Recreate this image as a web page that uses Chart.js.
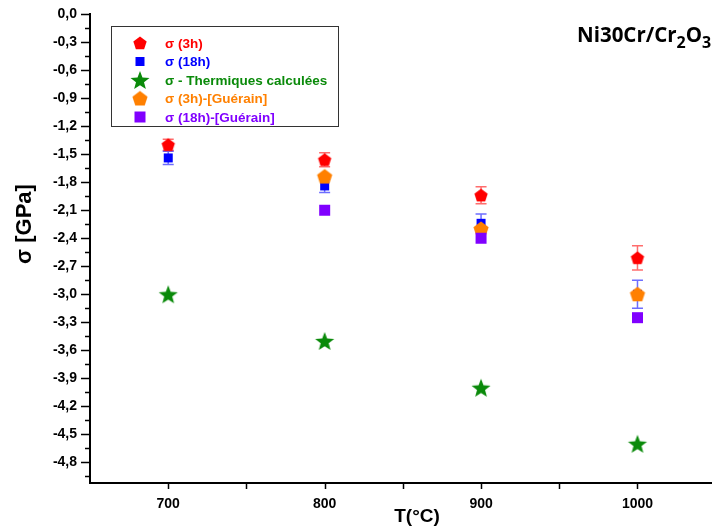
<!DOCTYPE html>
<html>
<head>
<meta charset="utf-8">
<script src="https://cdn.jsdelivr.net/npm/chart.js@4"></script>
<style>
  html, body { margin: 0; padding: 0; background: #fff; }
</style>
</head>
<body>
<canvas id="c" width="716" height="530"></canvas>
<script>
// data
const temps = [700, 800, 900, 1000];
const sigma3h = [-1.40, -1.56, -1.94, -2.61];
const err3h = [0.06, 0.075, 0.09, 0.13];
const sigma18h = [-1.54, -1.84, -2.24, -3.00];
const err18h = [0.07, 0.07, 0.10, 0.15];
const sigmaTherm = [-3.00, -3.50, -4.00, -4.60];
const sigma3hG = [null, -1.74, -2.30, -3.00];
const sigma18hG = [null, -2.10, -2.40, -3.25];

const yMajor = [0, -0.3, -0.6, -0.9, -1.2, -1.5, -1.8, -2.1, -2.4, -2.7, -3.0, -3.3, -3.6, -3.9, -4.2, -4.5, -4.8];
const xMajor = [700, 800, 900, 1000];
const xMinor = [750, 850, 950];

const labels = ["σ (3h)", "σ (18h)", "σ - Thermiques calculées", "σ (3h)-[Guérain]", "σ (18h)-[Guérain]"];
const colors = ["#ff0000", "#0000ff", "#0a8a0a", "#ff8000", "#8000ff"];

const FONT = '"Liberation Sans", Arial, sans-serif';

function pentagon(color, r) {
  const s = Math.ceil(r * 2 + 2);
  const c = document.createElement("canvas");
  c.width = c.height = s;
  const g = c.getContext("2d");
  g.fillStyle = color;
  g.beginPath();
  for (let i = 0; i < 5; i++) {
    const a = -Math.PI / 2 + i * 2 * Math.PI / 5;
    const px = s / 2 + r * Math.cos(a), py = s / 2 + 0.6 + r * Math.sin(a);
    i ? g.lineTo(px, py) : g.moveTo(px, py);
  }
  g.closePath();
  g.fill();
  return c;
}

function square(color, half) {
  const s = Math.ceil(half * 2 + 2);
  const c = document.createElement("canvas");
  c.width = c.height = s;
  const g = c.getContext("2d");
  g.fillStyle = color;
  g.fillRect(s / 2 - half, s / 2 - half, half * 2, half * 2);
  return c;
}

function star(color, r) {
  const s = Math.ceil(r * 2 + 2);
  const c = document.createElement("canvas");
  c.width = c.height = s;
  const g = c.getContext("2d");
  g.fillStyle = color;
  g.beginPath();
  for (let i = 0; i < 10; i++) {
    const a = -Math.PI / 2 + i * Math.PI / 5;
    const rr = i % 2 ? r * 0.42 : r;
    const px = s / 2 + rr * Math.cos(a), py = s / 2 + 1 + rr * Math.sin(a);
    i ? g.lineTo(px, py) : g.moveTo(px, py);
  }
  g.closePath();
  g.fill();
  return c;
}

const markers = [
  pentagon(colors[0], 7),
  square(colors[1], 4.5),
  star(colors[2], 10),
  pentagon(colors[3], 8),
  square(colors[4], 5.5)
];

const toPts = arr => temps.map((t, i) => ({ x: t, y: arr[i] })).filter(p => p.y !== null);
const series = [sigma3h, sigma18h, sigmaTherm, sigma3hG, sigma18hG];
const errs = [err3h, err18h, null, null, null];
const errColors = ["rgba(255,60,60,0.75)", "rgba(60,60,255,0.75)"];

const fmt = v => (Math.abs(v) < 1e-9 ? 0 : v).toFixed(1).replace(".", ",");
const isMajorY = v => yMajor.some(m => Math.abs(m - v) < 1e-6);

const errorBars = {
  id: "errorBars",
  beforeDatasetsDraw(chart) {
    const { ctx, scales: { x, y } } = chart;
    ctx.save();
    ctx.lineWidth = 1.5;
    errs.forEach((e, k) => {
      if (!e) return;
      ctx.strokeStyle = errColors[k];
      temps.forEach((t, i) => {
        const px = x.getPixelForValue(t);
        const top = y.getPixelForValue(series[k][i] + e[i]);
        const bot = y.getPixelForValue(series[k][i] - e[i]);
        ctx.beginPath();
        ctx.moveTo(px, top); ctx.lineTo(px, bot);
        ctx.moveTo(px - 5.5, top); ctx.lineTo(px + 5.5, top);
        ctx.moveTo(px - 5.5, bot); ctx.lineTo(px + 5.5, bot);
        ctx.stroke();
      });
    });
    ctx.restore();
  }
};

const decor = {
  id: "decor",
  afterDraw(chart) {
    const { ctx, scales: { x, y }, chartArea } = chart;
    ctx.save();
    // tick marks
    ctx.strokeStyle = "#000";
    ctx.lineWidth = 1.5;
    ctx.beginPath();
    y.ticks.forEach(t => {
      const py = Math.round(y.getPixelForValue(t.value)) + 0.5;
      ctx.moveTo(chartArea.left - (isMajorY(t.value) ? 9 : 5), py);
      ctx.lineTo(chartArea.left, py);
    });
    x.ticks.forEach(t => {
      const px = Math.round(x.getPixelForValue(t.value)) + 0.5;
      ctx.moveTo(px, chartArea.bottom);
      ctx.lineTo(px, chartArea.bottom + 6);
    });
    ctx.stroke();

    // axis titles
    ctx.fillStyle = "#000";
    ctx.textAlign = "center";
    ctx.textBaseline = "middle";
    ctx.font = "bold 19px " + FONT;
    ctx.fillText("T(°C)", 417, 517);
    ctx.save();
    ctx.translate(25, 224);
    ctx.rotate(-Math.PI / 2);
    ctx.font = "bold 22px " + FONT;
    ctx.fillText("σ [GPa]", 0, 0);
    ctx.restore();

    // sample label with subscripts
    ctx.textAlign = "left";
    ctx.textBaseline = "alphabetic";
    let cx = 577;
    const parts = [["Ni30Cr/Cr", 20.5, 0], ["2", 16, 6], ["O", 20.5, 0], ["3", 16, 6]];
    parts.forEach(([s, f, dy]) => {
      ctx.font = "bold " + f + 'px "Open Sans", sans-serif';
      ctx.fillText(s, cx, 42 + dy);
      cx += ctx.measureText(s).width;
    });

    // legend box
    ctx.strokeStyle = "#333";
    ctx.lineWidth = 1;
    ctx.strokeRect(111.5, 26.5, 227, 100);
    ctx.font = "bold 13.5px " + FONT;
    ctx.textBaseline = "middle";
    labels.forEach((lab, i) => {
      const ly = 43 + i * 18.5;
      const m = markers[i];
      ctx.drawImage(m, 140 - m.width / 2, ly - m.height / 2);
      ctx.fillStyle = colors[i];
      ctx.fillText(lab, 165, ly + 1);
    });
    ctx.restore();
  }
};

new Chart(document.getElementById("c"), {
  type: "scatter",
  data: {
    datasets: series.map((s, k) => ({
      label: labels[k],
      data: toPts(s),
      pointStyle: markers[k],
      backgroundColor: colors[k],
      borderColor: colors[k],
      order: 5 - k
    }))
  },
  options: {
    responsive: false,
    animation: false,
    devicePixelRatio: 1,
    layout: { padding: { top: 14, right: 0, left: 0, bottom: 0 } },
    plugins: { legend: { display: false }, tooltip: { enabled: false } },
    scales: {
      x: {
        type: "linear",
        min: 650,
        max: 1047,
        afterFit: s => { s.height = 47; s.paddingLeft = 0; s.paddingRight = 0; },
        afterBuildTicks: s => {
          s.ticks = xMajor.concat(xMinor).sort((a, b) => a - b).map(v => ({ value: v }));
        },
        grid: { display: false, drawTicks: false },
        border: { display: true, color: "#000", width: 2 },
        ticks: {
          autoSkip: false,
          maxRotation: 0,
          padding: 13,
          color: "#000",
          font: { family: FONT, size: 14, weight: "bold" },
          callback: v => (xMajor.includes(v) ? String(v) : "")
        }
      },
      y: {
        type: "linear",
        min: -5.02,
        max: 0,
        afterFit: s => { s.width = 90; s.paddingTop = 0; s.paddingBottom = 0; },
        afterBuildTicks: s => {
          const all = [];
          yMajor.forEach(v => { all.push(v); all.push(v - 0.15); });
          s.ticks = all.filter(v => v >= -5.02).sort((a, b) => a - b).map(v => ({ value: v }));
        },
        grid: { display: false, drawTicks: false },
        border: { display: true, color: "#000", width: 2 },
        ticks: {
          autoSkip: false,
          padding: 13,
          color: "#000",
          font: { family: FONT, size: 14, weight: "bold" },
          callback: v => (isMajorY(v) ? fmt(v) : "")
        }
      }
    }
  },
  plugins: [errorBars, decor]
});
</script>
</body>
</html>
